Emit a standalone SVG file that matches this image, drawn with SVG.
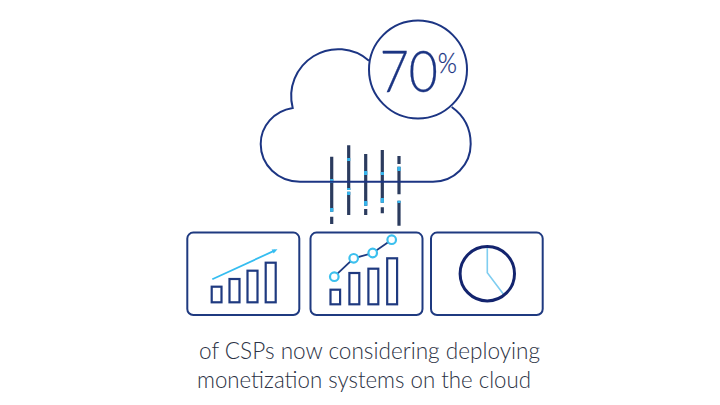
<svg xmlns="http://www.w3.org/2000/svg" width="720" height="405" viewBox="0 0 720 405">
<style>
.ol{fill:none;stroke:#1c3583;stroke-width:2}
.box{fill:#fff;stroke:#1f3a80;stroke-width:2}
.bar{fill:#fff;stroke:#1f3a80;stroke-width:2.2}
.rain{stroke:#2b3b5e;stroke-width:3.2;fill:none}
.spot{stroke:#35b6ee;stroke-width:3.2;fill:none}
.dot{fill:#fff;stroke:#3cc0ee;stroke-width:2.2}
text{font-family:Lato,"Open Sans","Liberation Sans",sans-serif;font-weight:300}
.cap{font-size:23.5px;fill:#2c3244}
.num{fill:#1c3583;stroke:#1c3583;stroke-width:0.3}
</style>
<rect width="720" height="405" fill="#fff"/>
<g id="rain">
<path class="rain" d="M331.7,156.7V211.7M331.7,216.7V224M348.7,145.3V190M348.7,191.7V215M365.7,154V205.7M365.7,209V215M382.3,150V202.7M382.3,207.3V213.3M399,156V164M399,166.7V194.3M399,200.7V225.7"/>
<path class="spot" d="M331.7,179V183M331.7,208V211.7M348.7,158V161M348.7,188V190M348.7,191.7V195M365.7,171V175M365.7,201V205.7M382.3,172V175M382.3,198V202.7M399,166.7V171M399,200.7V203"/>
</g>
<g id="cloud">
<path class="ol" d="M369,60.7A47,47,0,0,0,292.7,108C274,111,260.7,126,260.7,144C260.7,165,278,181.7,300,181.7L433,181.7C454,181.7,470.7,165,470.7,144C470.7,128,463,115,451.7,107"/>
</g>
<g id="badge">
<circle class="ol" cx="418" cy="69.5" r="49" style="fill:#fff"/>
<text class="num" transform="translate(379.7,92) scale(.88,1)" font-size="57">70<tspan font-size="28" dy="-19.3">%</tspan></text>
</g>
<g id="panel-growth">
<rect class="box" x="187.3" y="232.6" width="112" height="82.4" rx="6"/>
<rect class="bar" x="211.7" y="286.7" width="9.8" height="15.6"/>
<rect class="bar" x="229.5" y="279" width="10" height="23.3"/>
<rect class="bar" x="247.5" y="270.7" width="10" height="31.6"/>
<rect class="bar" x="265.7" y="262.7" width="10" height="39.6"/>
<path d="M212.3,279.3L275,250.4" fill="none" stroke="#35bdf0" stroke-width="1.8"/>
<path d="M277.5,249.2L271.6,249.5L273.6,253.6Z" fill="#35bdf0"/>
</g>
<g id="panel-trend">
<rect class="box" x="310.5" y="232.6" width="112" height="82.4" rx="6"/>
<rect class="bar" x="330.5" y="289.7" width="9.6" height="14.6"/>
<rect class="bar" x="349.4" y="273" width="9.9" height="31.3"/>
<rect class="bar" x="368.4" y="268.7" width="9.9" height="35.6"/>
<rect class="bar" x="387.2" y="258.3" width="9.9" height="46"/>
<path d="M334.3,276.7L353.7,258.3L372.7,253L391.7,239.7" fill="none" stroke="#1f3a80" stroke-width="1.8"/>
<circle class="dot" cx="334.3" cy="276.7" r="4.3"/>
<circle class="dot" cx="353.7" cy="258.3" r="4.3"/>
<circle class="dot" cx="372.7" cy="253" r="4.3"/>
<circle class="dot" cx="391.7" cy="239.7" r="4.3"/>
</g>
<g id="panel-clock">
<rect class="box" x="431" y="232.6" width="111.7" height="82.4" rx="6"/>
<path d="M487.3,246V272.7L503.3,294" fill="none" stroke="#7fcdf0" stroke-width="1.6"/>
<circle cx="487.3" cy="273.7" r="27.2" fill="none" stroke="#13246e" stroke-width="3"/>
</g>
<g id="caption">
<text class="cap" x="199" y="359" textLength="341" lengthAdjust="spacingAndGlyphs">of CSPs now considering deploying</text>
<text class="cap" x="197" y="388" textLength="334" lengthAdjust="spacingAndGlyphs">monetization systems on the cloud</text>
</g>
</svg>
